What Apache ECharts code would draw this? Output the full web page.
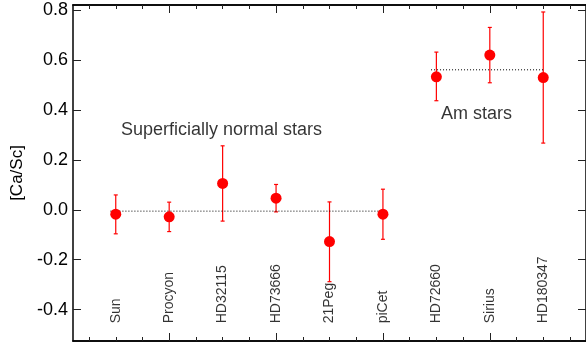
<!DOCTYPE html>
<html>
<head>
<meta charset="utf-8">
<script src="https://cdn.jsdelivr.net/npm/echarts@6/dist/echarts.min.js"></script>
<style>
    html, body { margin: 0; padding: 0; background: #fff; }
    #main { width: 586px; height: 345px; }
</style>
</head>
<body>
<div id="main"></div>
<script>
// 星名与x位置
const starNames = ['Sun', 'Procyon', 'HD32115', 'HD73666', '21Peg', 'piCet', 'HD72660', 'Sirius', 'HD180347'];
const starX = [1, 2, 3, 4, 5, 6, 7, 8, 9];
// [Ca/Sc] 值及误差上下限
const caSc = [-0.017, -0.028, 0.106, 0.047, -0.127, -0.017, 0.534, 0.621, 0.531];
const errLow = [-0.096, -0.087, -0.045, -0.008, -0.288, -0.118, 0.438, 0.51, 0.268];
const errHigh = [0.06, 0.031, 0.257, 0.102, 0.032, 0.083, 0.633, 0.732, 0.794];
// 平均线（虚线）
const normalMeanX = [0.9, 6];
const normalMeanY = [-0.005, -0.005];
const amMeanX = [6.9, 9];
const amMeanY = [0.562, 0.562];
// 刻度
const yTicks = [-0.4, -0.2, 0.0, 0.2, 0.4, 0.6, 0.8];
const xMajorTicks = [2, 4, 6, 8];
const xMinorTicks = [0.5, 1, 1.5, 2.5, 3, 3.5, 4.5, 5, 5.5, 6.5, 7, 7.5, 8.5, 9, 9.5];
// 文字注释
const starLabelY = -0.455;
const notes = [
    { text: 'Superficially normal stars', x: 2.98, y: 0.321 },
    { text: 'Am stars', x: 7.75, y: 0.386 }
];

const chart = echarts.init(document.getElementById('main'));
const font = 'Liberation Sans, Arial, sans-serif';
const xRange = { min: 0.2, max: 9.8 };

const xAxisBase = (pos, ticks, len) => ({
    type: 'value', position: pos, ...xRange,
    axisLine: { show: true, onZero: false, lineStyle: { color: '#000', width: 1.5 } },
    axisTick: { show: true, inside: true, length: len, customValues: ticks, lineStyle: { color: '#222', width: 1 } },
    axisLabel: { show: false },
    splitLine: { show: false }
});

const textStyle = (size) => ({
    fontFamily: font, fontSize: size, color: '#000',
    textBorderWidth: 0, textBorderColor: 'transparent'
});

const option = {
    animation: false,
    grid: { left: 73, right: 0, top: 5, bottom: 4 },
    xAxis: [
        xAxisBase('bottom', xMajorTicks, 8),
        xAxisBase('bottom', xMinorTicks, 4),
        xAxisBase('top', xMajorTicks, 8),
        xAxisBase('top', xMinorTicks, 4)
    ],
    yAxis: [
        {
            type: 'value', position: 'left', min: -0.526, max: 0.822,
            name: '[Ca/Sc]', nameLocation: 'middle', nameGap: 46,
            nameTextStyle: textStyle(17),
            axisLine: { show: true, onZero: false, lineStyle: { color: '#000', width: 1.5 } },
            axisTick: { show: true, inside: true, length: 8, customValues: yTicks, lineStyle: { color: '#222' } },
            axisLabel: {
                show: true, customValues: yTicks, margin: 5,
                ...textStyle(18),
                formatter: v => v.toFixed(1)
            },
            splitLine: { show: false }
        },
        {
            type: 'value', position: 'right', min: -0.526, max: 0.822,
            axisLine: { show: true, onZero: false, lineStyle: { color: '#000', width: 1.5 } },
            axisTick: { show: true, inside: true, length: 8, customValues: yTicks, lineStyle: { color: '#222' } },
            axisLabel: { show: false },
            splitLine: { show: false }
        }
    ],
    series: [
        {
            type: 'line', symbol: 'none', silent: true,
            data: normalMeanX.map((x, i) => [x, normalMeanY[i]]),
            lineStyle: { color: '#000', width: 1, type: [1, 2] }
        },
        {
            type: 'line', symbol: 'none', silent: true,
            data: amMeanX.map((x, i) => [x, amMeanY[i]]),
            lineStyle: { color: '#000', width: 1, type: [1, 2] }
        },
        {
            // 误差棒
            type: 'custom',
            data: starX.map((x, i) => [x, errLow[i], errHigh[i]]),
            renderItem: (params, api) => {
                const lo = api.coord([api.value(0), api.value(1)]);
                const hi = api.coord([api.value(0), api.value(2)]);
                const cap = 2;
                const style = { stroke: '#ff0000', lineWidth: 1.2 };
                return {
                    type: 'group',
                    children: [
                        { type: 'line', shape: { x1: lo[0], y1: lo[1], x2: hi[0], y2: hi[1] }, style },
                        { type: 'line', shape: { x1: lo[0] - cap, y1: lo[1], x2: lo[0] + cap, y2: lo[1] }, style },
                        { type: 'line', shape: { x1: hi[0] - cap, y1: hi[1], x2: hi[0] + cap, y2: hi[1] }, style }
                    ]
                };
            },
            z: 3
        },
        {
            type: 'scatter', symbol: 'circle', symbolSize: 11,
            data: starX.map((x, i) => [x, caSc[i]]),
            itemStyle: { color: '#ff0000', opacity: 1 },
            z: 4
        },
        {
            // 星名（竖排）
            type: 'scatter', symbolSize: 1, silent: true,
            data: starX.map((x, i) => ({ value: [x, starLabelY], name: starNames[i] })),
            itemStyle: { color: 'rgba(0,0,0,0)' },
            label: {
                show: true, position: 'inside', rotate: 90,
                align: 'left', verticalAlign: 'middle',
                formatter: p => p.name,
                ...textStyle(14)
            }
        },
        {
            type: 'scatter', symbolSize: 1, silent: true,
            data: notes.map(n => ({ value: [n.x, n.y], name: n.text })),
            itemStyle: { color: 'rgba(0,0,0,0)' },
            label: {
                show: true, position: 'inside',
                align: 'center', verticalAlign: 'middle',
                formatter: p => p.name,
                ...textStyle(18)
            }
        }
    ]
};
chart.setOption(option);
</script>
</body>
</html>
